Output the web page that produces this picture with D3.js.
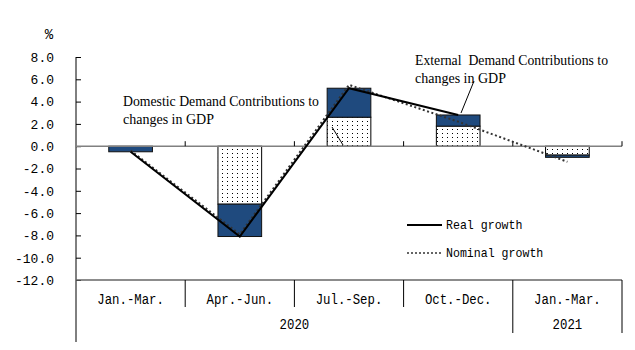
<!DOCTYPE html>
<html><head><meta charset="utf-8">
<script src="https://cdn.jsdelivr.net/npm/d3@7"></script>
<style>body{margin:0;background:#fff}</style></head>
<body><svg id="c" width="635" height="350"></svg>
<script>
const categories = ["Jan.-Mar.", "Apr.-Jun.", "Jul.-Sep.", "Oct.-Dec.", "Jan.-Mar."];
const yearLabels = ["2020", "2021"];
const yearStart = [0, 4];
const yearEnd = [3, 4];
const domestic = [0.0, -5.2, 2.6, 1.8, -0.8];
const external = [-0.5, -2.9, 2.6, 1.0, -0.2];
const realGrowth = [-0.5, -8.1, 5.2, 2.8, null];
const nominalGrowth = [-0.4, -7.9, 5.5, 2.2, -1.4];
const yTicks = [8, 6, 4, 2, 0, -2, -4, -6, -8, -10, -12];
const legendLabels = ["Real growth", "Nominal growth"];
const noteDomestic = ["Domestic Demand Contributions to", "changes in GDP"];
const noteExternal = ["External  Demand Contributions to", "changes in GDP"];

const svg = d3.select("#c");
const L = 76, R = 622, T = 57, B = 280;
const x = d3.scaleBand().domain(d3.range(categories.length)).range([L, R]);
const y = d3.scaleLinear().domain([-12, 8]).range([B, T]);
const bw = x.step() * 0.4;
const cx = i => x(i) + x.bandwidth() / 2;
const mono = "'Liberation Mono', 'DejaVu Sans Mono', monospace";
const serif = "'Liberation Serif', 'DejaVu Serif', serif";

const defs = svg.append("defs");
const pat = defs.append("pattern").attr("id", "dots").attr("patternUnits", "userSpaceOnUse")
  .attr("width", 5).attr("height", 4);
pat.append("rect").attr("width", 5).attr("height", 4).attr("fill", "#fff");
pat.append("rect").attr("x", 2).attr("y", 1).attr("width", 1).attr("height", 1).attr("fill", "#000");

// bars
const blue = "#1f4a7e";
categories.forEach((c, i) => {
  const d0 = 0, d1 = domestic[i], e1 = domestic[i] + external[i];
  if (d1 !== 0) {
    svg.append("rect").attr("x", cx(i) - bw / 2).attr("width", bw)
      .attr("y", Math.min(y(d0), y(d1))).attr("height", Math.abs(y(d1) - y(d0)))
      .attr("fill", "url(#dots)").attr("stroke", "#000").attr("stroke-width", 1);
  }
  svg.append("rect").attr("x", cx(i) - bw / 2).attr("width", bw)
    .attr("y", Math.min(y(d1), y(e1))).attr("height", Math.abs(y(e1) - y(d1)))
    .attr("fill", blue).attr("stroke", "#111").attr("stroke-width", 1);
});

// y axis
const yAxis = d3.axisLeft(y).tickValues(yTicks).tickSizeInner(-5).tickSizeOuter(0)
  .tickPadding(22).tickFormat(d => d.toFixed(1));
const ga = svg.append("g").attr("transform", `translate(${L},0)`).call(yAxis);
ga.select(".domain").remove();
ga.selectAll("text").attr("font-family", mono).attr("font-size", 13.5).attr("fill", "#000")
  .attr("textLength", function(d){ return d.toFixed(1).length * 7.8; })
  .attr("lengthAdjust", "spacingAndGlyphs");
ga.selectAll("line").attr("stroke", "#000");
svg.append("line").attr("x1", L).attr("x2", L).attr("y1", T).attr("y2", 342).attr("stroke", "#000");
svg.append("text").attr("x", 49).attr("y", 35).attr("text-anchor", "middle").attr("dominant-baseline", "central")
  .attr("font-family", mono).attr("font-size", 14).text("%");

// zero line and ticks
svg.append("line").attr("x1", L).attr("x2", R).attr("y1", y(0)).attr("y2", y(0))
  .attr("stroke", "#808080").attr("stroke-width", 1.5);
d3.range(1, categories.length + 1).forEach(i => {
  const bx = L + i * x.step();
  svg.append("line").attr("x1", bx).attr("x2", bx).attr("y1", y(0)).attr("y2", y(0) - 5).attr("stroke", "#000");
});

// category axis
svg.append("line").attr("x1", L).attr("x2", R).attr("y1", B).attr("y2", B).attr("stroke", "#666").attr("stroke-width", 1.5);
d3.range(1, categories.length + 1).forEach(i => {
  const bx = L + i * x.step();
  const isYear = yearStart.includes(i) || i === categories.length;
  svg.append("line").attr("x1", bx).attr("x2", bx).attr("y1", B).attr("y2", isYear ? 333 : 307).attr("stroke", "#000");
});
svg.selectAll(".cat").data(categories).join("text").attr("class", "cat")
  .attr("x", (d, i) => cx(i)).attr("y", 300).attr("text-anchor", "middle").attr("dominant-baseline", "central")
  .attr("font-family", mono).attr("font-size", 14)
  .attr("textLength", d => d.length * 7.4).attr("lengthAdjust", "spacingAndGlyphs").text(d => d);
svg.selectAll(".yr").data(yearLabels).join("text").attr("class", "yr")
  .attr("x", (d, k) => (x(yearStart[k]) + x(yearEnd[k]) + x.step()) / 2).attr("y", 325)
  .attr("text-anchor", "middle").attr("dominant-baseline", "central")
  .attr("font-family", mono).attr("font-size", 14)
  .attr("textLength", d => d.length * 7.4).attr("lengthAdjust", "spacingAndGlyphs").text(d => d);

// lines
const lineGen = d3.line().defined(d => d[1] !== null).x(d => cx(d[0])).y(d => y(d[1]));
svg.append("path").datum(nominalGrowth.map((v, i) => [i, v])).attr("d", lineGen)
  .attr("fill", "none").attr("stroke", "#333").attr("stroke-width", 2).attr("stroke-dasharray", "2,2.5");
svg.append("path").datum(realGrowth.map((v, i) => [i, v])).attr("d", lineGen)
  .attr("fill", "none").attr("stroke", "#000").attr("stroke-width", 2);

// legend
const lg = [[225, null], [253, "2,2"]];
legendLabels.forEach((t, k) => {
  svg.append("line").attr("x1", 407).attr("x2", 442).attr("y1", lg[k][0]).attr("y2", lg[k][0])
    .attr("stroke", k === 0 ? "#000" : "#333").attr("stroke-width", k === 0 ? 2 : 1.5)
    .attr("stroke-dasharray", lg[k][1]);
  svg.append("text").attr("x", 446).attr("y", lg[k][0]).attr("dominant-baseline", "central")
    .attr("font-family", mono).attr("font-size", 13)
    .attr("textLength", t.length * 6.95).attr("lengthAdjust", "spacingAndGlyphs").text(t);
});

// annotations
[[noteDomestic, 123, 101, 196], [noteExternal, 415, 60, 193]].forEach(([lines, ax, ay, w]) => {
  lines.forEach((t, k) => {
    svg.append("text").attr("x", ax).attr("y", ay + k * 18).attr("dominant-baseline", "central")
      .attr("font-family", serif).attr("font-size", 14).attr("xml:space", "preserve")
      .attr("textLength", k === 0 ? w : null).attr("lengthAdjust", "spacingAndGlyphs").text(t);
  });
});
svg.append("line").attr("x1", 332).attr("y1", 127).attr("x2", 343).attr("y2", 145).attr("stroke", "#000");
svg.append("line").attr("x1", 474).attr("y1", 81).attr("x2", 461).attr("y2", 113).attr("stroke", "#000");
</script></body></html>
